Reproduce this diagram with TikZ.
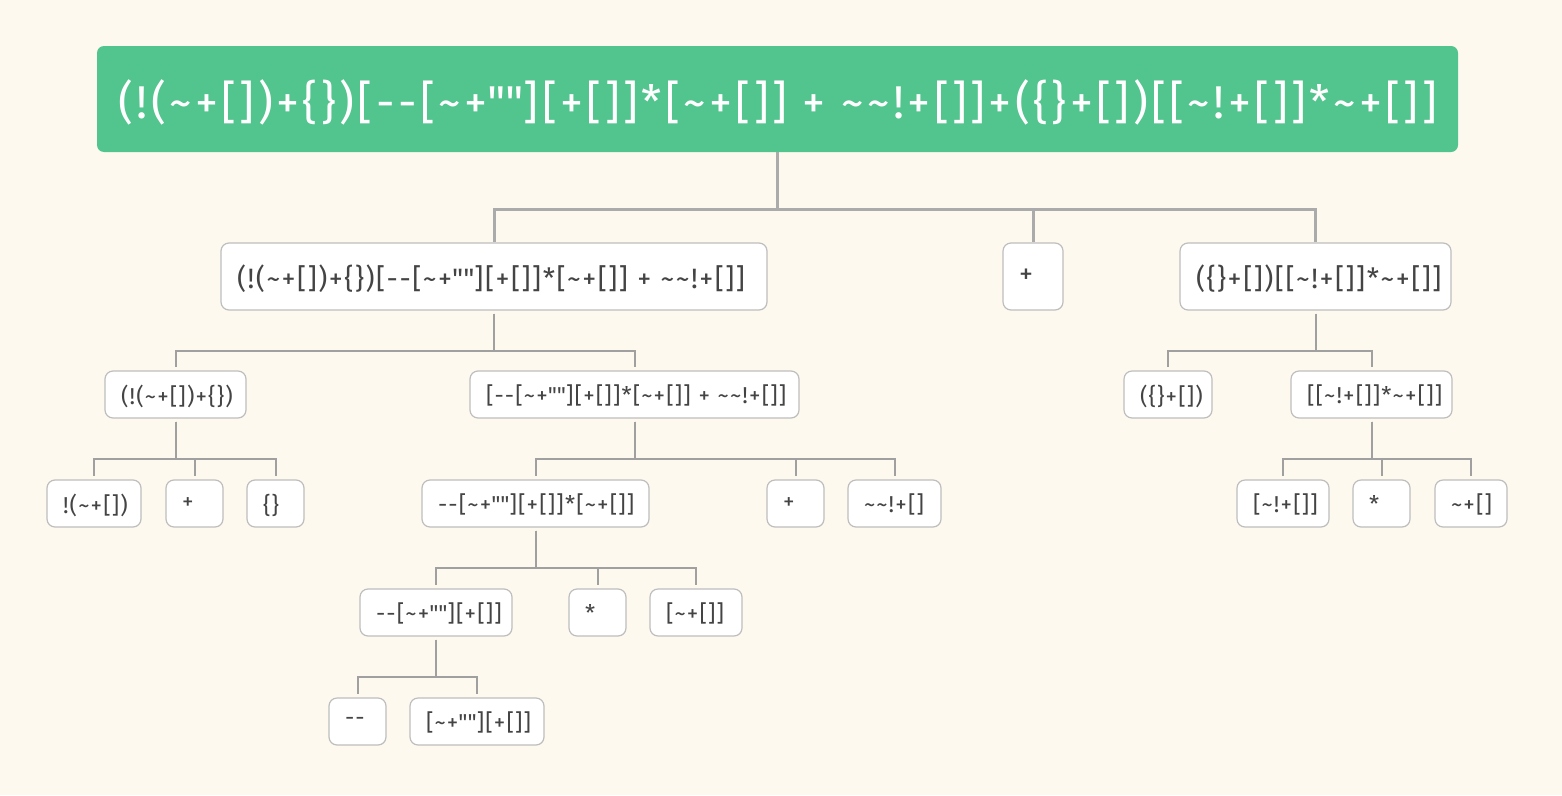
\documentclass[tikz,border=0pt]{standalone}
\usepackage{fontspec}
\setmainfont{Fira Sans}
\usetikzlibrary{positioning}
\definecolor{bgcream}{RGB}{254,249,238}
\definecolor{rootgreen}{RGB}{82,196,142}
\definecolor{boxline}{RGB}{190,190,190}
\definecolor{linkgray}{RGB}{160,160,160}
\definecolor{toplinkgray}{RGB}{171,171,171}
\definecolor{txtgray}{RGB}{68,68,68}
\newcommand{\tld}{\textasciitilde}
\newcommand{\dq}{\textquotedbl}
\exhyphenpenalty=10000
\tikzset{
  rootbox/.style={rectangle, fill=rootgreen, rounded corners=7pt, text=white, text depth=0pt, font=\fontsize{46}{50}\selectfont\addfontfeatures{LetterSpace=7.5}, minimum width=1361pt, minimum height=106pt},
  termbox/.style={rectangle, draw=boxline, line width=1.2pt, fill=white, rounded corners=8pt, text=txtgray, text depth=0pt, inner xsep=16pt, inner ysep=0pt, align=left, text width=#1, minimum height=47pt, font=\fontsize{23}{26}\selectfont\addfontfeatures{LetterSpace=5}},
  bigbox/.style={termbox=#1, minimum height=67pt, font=\fontsize{28}{31}\selectfont\addfontfeatures{LetterSpace=5.5}},
  link/.style={draw=linkgray, line width=2pt, shorten <=3pt, shorten >=3pt},
  toplink/.style={draw=toplinkgray, line width=3pt}
}
\begin{document}
\begin{tikzpicture}[x=1pt, y=-1pt]
\useasboundingbox[fill=bgcream] (0,0) rectangle (1562,795);
% root expression
\node[rootbox] (root) at (777.5,99) {(!(\tld+[])+\{\})[-{}-[\tld+\dq\dq][+[]]*[\tld+[]]~+~\tld\tld!+[]]+(\{\}+[])[[\tld!+[]]*\tld+[]]};
% first split
\node[bigbox=514pt] (left) at (494,276.5) {(!(\tld+[])+\{\})[-{}-[\tld+\dq\dq][+[]]*[\tld+[]]~+~\tld\tld!+[]]};
\node[bigbox=28pt] (plus) at (1033,276.5) {+};
\node[bigbox=239pt] (right) at (1315.5,276.5) {(\{\}+[])[[\tld!+[]]*\tld+[]]};
\draw[toplink] (root.south) -- ++(0,57) -| (left.north);
\draw[toplink] (root.south) -- ++(0,57) -| (plus.north);
\draw[toplink] (root.south) -- ++(0,57) -| (right.north);
% left side
\node[termbox=109pt] (notarr) at (175.5,394.5) {(!(\tld+[])+\{\})};
\node[termbox=297pt] (index) at (634.5,394.5) {[-{}-[\tld+\dq\dq][+[]]*[\tld+[]]~+~\tld\tld!+[]]};
\draw[link] (left.south) -- ++(0,40) -| (notarr.north);
\draw[link] (left.south) -- ++(0,40) -| (index.north);
\node[termbox=62pt] (notnum) at (94,503.5) {!(\tld+[])};
\node[termbox=25pt] (plusa) at (194.5,503.5) {+};
\node[termbox=25pt] (obj) at (275.5,503.5) {\{\}};
\draw[link] (notarr.south) -- ++(0,40) -| (notnum.north);
\draw[link] (notarr.south) -- ++(0,40) -| (plusa.north);
\draw[link] (notarr.south) -- ++(0,40) -| (obj.north);
\node[termbox=195pt] (prod) at (535.5,503.5) {-{}-[\tld+\dq\dq][+[]]*[\tld+[]]};
\node[termbox=25pt] (plusb) at (795.5,503.5) {+};
\node[termbox=61pt] (twotld) at (894.5,503.5) {\tld\tld!+[]};
\draw[link] (index.south) -- ++(0,40) -| (prod.north);
\draw[link] (index.south) -- ++(0,40) -| (plusb.north);
\draw[link] (index.south) -- ++(0,40) -| (twotld.north);
\node[termbox=120pt] (decr) at (436,612.5) {-{}-[\tld+\dq\dq][+[]]};
\node[termbox=25pt] (times) at (597.5,612.5) {*};
\node[termbox=60pt] (tldarr) at (696,612.5) {[\tld+[]]};
\draw[link] (prod.south) -- ++(0,40) -| (decr.north);
\draw[link] (prod.south) -- ++(0,40) -| (times.north);
\draw[link] (prod.south) -- ++(0,40) -| (tldarr.north);
\node[termbox=25pt] (dash) at (357.5,721.5) {-{}-};
\node[termbox=102pt] (strarr) at (477,721.5) {[\tld+\dq\dq][+[]]};
\draw[link] (decr.south) -- ++(0,40) -| (dash.north);
\draw[link] (decr.south) -- ++(0,40) -| (strarr.north);
% right side
\node[termbox=56pt] (objarr) at (1168,394.5) {(\{\}+[])};
\node[termbox=129pt] (mult) at (1371.5,394.5) {[[\tld!+[]]*\tld+[]]};
\draw[link] (right.south) -- ++(0,40) -| (objarr.north);
\draw[link] (right.south) -- ++(0,40) -| (mult.north);
\node[termbox=60pt] (notone) at (1283,503.5) {[\tld!+[]]};
\node[termbox=25pt] (timesb) at (1381.5,503.5) {*};
\node[termbox=40pt] (tldone) at (1471,503.5) {\tld+[]};
\draw[link] (mult.south) -- ++(0,40) -| (notone.north);
\draw[link] (mult.south) -- ++(0,40) -| (timesb.north);
\draw[link] (mult.south) -- ++(0,40) -| (tldone.north);
\end{tikzpicture}
\end{document}
